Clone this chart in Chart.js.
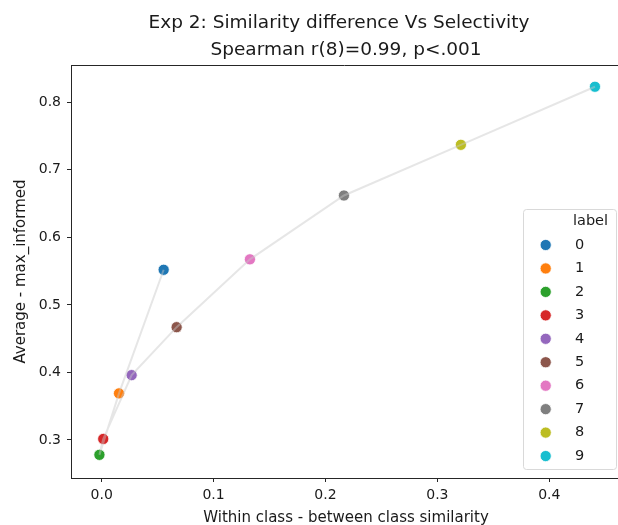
<!DOCTYPE html>
<html>
<head>
<meta charset="utf-8">
<script src="https://cdn.jsdelivr.net/npm/chart.js@4.4.1/dist/chart.umd.min.js"></script>
<style>
html,body{margin:0;padding:0;overflow:hidden;background:#fff;}
canvas{display:block;}
</style>
</head>
<body>
<canvas id="c" width="618" height="525"></canvas>
<script>
// ---- data ----
const labels = ['0','1','2','3','4','5','6','7','8','9'];
const xValues = [0.0554, 0.0155, -0.0020, 0.0014, 0.0268, 0.0670, 0.1325, 0.2165, 0.3210, 0.4408];
const yValues = [0.552, 0.369, 0.278, 0.3015, 0.396, 0.467, 0.5675, 0.662, 0.737, 0.823];
const colors = ['#1f77b4','#ff7f0e','#2ca02c','#d62728','#9467bd','#8c564b','#e377c2','#7f7f7f','#bcbd22','#17becf'];
const xTicks = [0.0, 0.1, 0.2, 0.3, 0.4];
const yTicks = [0.3, 0.4, 0.5, 0.6, 0.7, 0.8];
const titleText = 'Exp 2: Similarity difference Vs Selectivity';
const subtitleText = 'Spearman r(8)=0.99, p<.001';
const xLabel = 'Within class - between class similarity';
const yLabel = 'Average - max_informed';
const legendTitle = 'label';

const FONT = '"DejaVu Sans", sans-serif';
const TXT = '#1a1a1a';

const lineDataset = {
  type: 'scatter',
  label: '_line',
  data: labels.map((l, i) => ({x: xValues[i], y: yValues[i]})),
  showLine: true,
  borderColor: 'rgba(200,200,200,0.45)',
  borderWidth: 2,
  pointRadius: 0,
  pointHoverRadius: 0,
  fill: false
};
const pointDatasets = labels.map((l, i) => ({
  type: 'scatter',
  label: l,
  data: [{x: xValues[i], y: yValues[i]}],
  backgroundColor: colors[i],
  borderColor: '#ffffff',
  borderWidth: 0.8,
  pointRadius: 5.6,
  pointHoverRadius: 5.6
}));

const decor = {
  id: 'decor',
  beforeDraw(chart) {
    const ctx = chart.ctx;
    ctx.save();
    ctx.fillStyle = '#ffffff';
    ctx.fillRect(0, 0, chart.width, chart.height);
    ctx.restore();
  },
  afterDraw(chart) {
    const ctx = chart.ctx;
    const a = chart.chartArea;
    ctx.save();
    // top spine (right spine lies just beyond the visible figure)
    ctx.strokeStyle = '#262626';
    ctx.lineWidth = 1;
    ctx.beginPath();
    ctx.moveTo(a.left, a.top + 0.5);
    ctx.lineTo(chart.width, a.top + 0.5);
    ctx.stroke();

    const cx = 346;
    ctx.fillStyle = TXT;
    ctx.textAlign = 'center';
    ctx.textBaseline = 'alphabetic';
    ctx.font = '18.5px ' + FONT;
    ctx.fillText(titleText, 339, 28);
    ctx.fillText(subtitleText, cx, 55);

    ctx.font = '15px ' + FONT;
    ctx.fillText(xLabel, cx, 522);
    ctx.save();
    ctx.translate(25, (a.top + a.bottom) / 2);
    ctx.rotate(-Math.PI / 2);
    ctx.fillText(yLabel, 0, 0);
    ctx.restore();

    // legend
    const bx = 523.5, by = 209.5, bw = 93, bh = 260;
    const r = 3;
    ctx.beginPath();
    ctx.moveTo(bx + r, by);
    ctx.lineTo(bx + bw - r, by);
    ctx.arcTo(bx + bw, by, bx + bw, by + r, r);
    ctx.lineTo(bx + bw, by + bh - r);
    ctx.arcTo(bx + bw, by + bh, bx + bw - r, by + bh, r);
    ctx.lineTo(bx + r, by + bh);
    ctx.arcTo(bx, by + bh, bx, by + bh - r, r);
    ctx.lineTo(bx, by + r);
    ctx.arcTo(bx, by, bx + r, by, r);
    ctx.closePath();
    ctx.fillStyle = 'rgba(255,255,255,0.8)';
    ctx.fill();
    ctx.strokeStyle = '#d9d9d9';
    ctx.lineWidth = 1;
    ctx.stroke();

    ctx.textAlign = 'left';
    ctx.textBaseline = 'middle';
    ctx.fillStyle = TXT;
    ctx.font = '14.5px ' + FONT;
    ctx.fillText(legendTitle, 573, 221);
    const y0 = 245, dy = 23.45;
    pointDatasets.forEach((ds, i) => {
      const yy = y0 + i * dy;
      ctx.beginPath();
      ctx.arc(545.7, yy, 5.6, 0, Math.PI * 2);
      ctx.fillStyle = ds.backgroundColor;
      ctx.fill();
      ctx.strokeStyle = '#ffffff';
      ctx.lineWidth = 0.8;
      ctx.stroke();
      ctx.fillStyle = TXT;
      ctx.fillText(ds.label, 575, yy);
    });
    ctx.restore();
  }
};

new Chart(document.getElementById('c'), {
  type: 'scatter',
  data: { datasets: [lineDataset, ...pointDatasets] },
  options: {
    responsive: false,
    animation: false,
    devicePixelRatio: 1,
    layout: { autoPadding: false, padding: { top: 65, right: 0, left: 0, bottom: 0 } },
    plugins: { legend: { display: false }, tooltip: { enabled: false }, title: { display: false } },
    scales: {
      x: {
        type: 'linear',
        min: -0.0274,
        max: 0.4614,
        afterFit(s) { s.height = 47; s.paddingLeft = 0; s.paddingRight = 0; },
        afterBuildTicks(s) { s.ticks = xTicks.map(v => ({value: v})); },
        grid: { drawOnChartArea: false, drawTicks: true, tickLength: 4, color: '#262626', tickWidth: 1 },
        border: { display: true, color: '#262626', width: 1 },
        ticks: { color: TXT, font: { family: FONT, size: 14 }, padding: 5, maxRotation: 0,
                 callback: v => Number(v).toFixed(1) }
      },
      y: {
        type: 'linear',
        min: 0.2437,
        max: 0.8552,
        afterFit(s) { s.width = 71; s.paddingTop = 0; s.paddingBottom = 0; },
        afterBuildTicks(s) { s.ticks = yTicks.map(v => ({value: v})); },
        grid: { drawOnChartArea: false, drawTicks: true, tickLength: 4, color: '#262626', tickWidth: 1 },
        border: { display: true, color: '#262626', width: 1 },
        ticks: { color: TXT, font: { family: FONT, size: 14 }, padding: 6,
                 callback: v => Number(v).toFixed(1) }
      }
    }
  },
  plugins: [decor]
});
</script>
</body>
</html>
